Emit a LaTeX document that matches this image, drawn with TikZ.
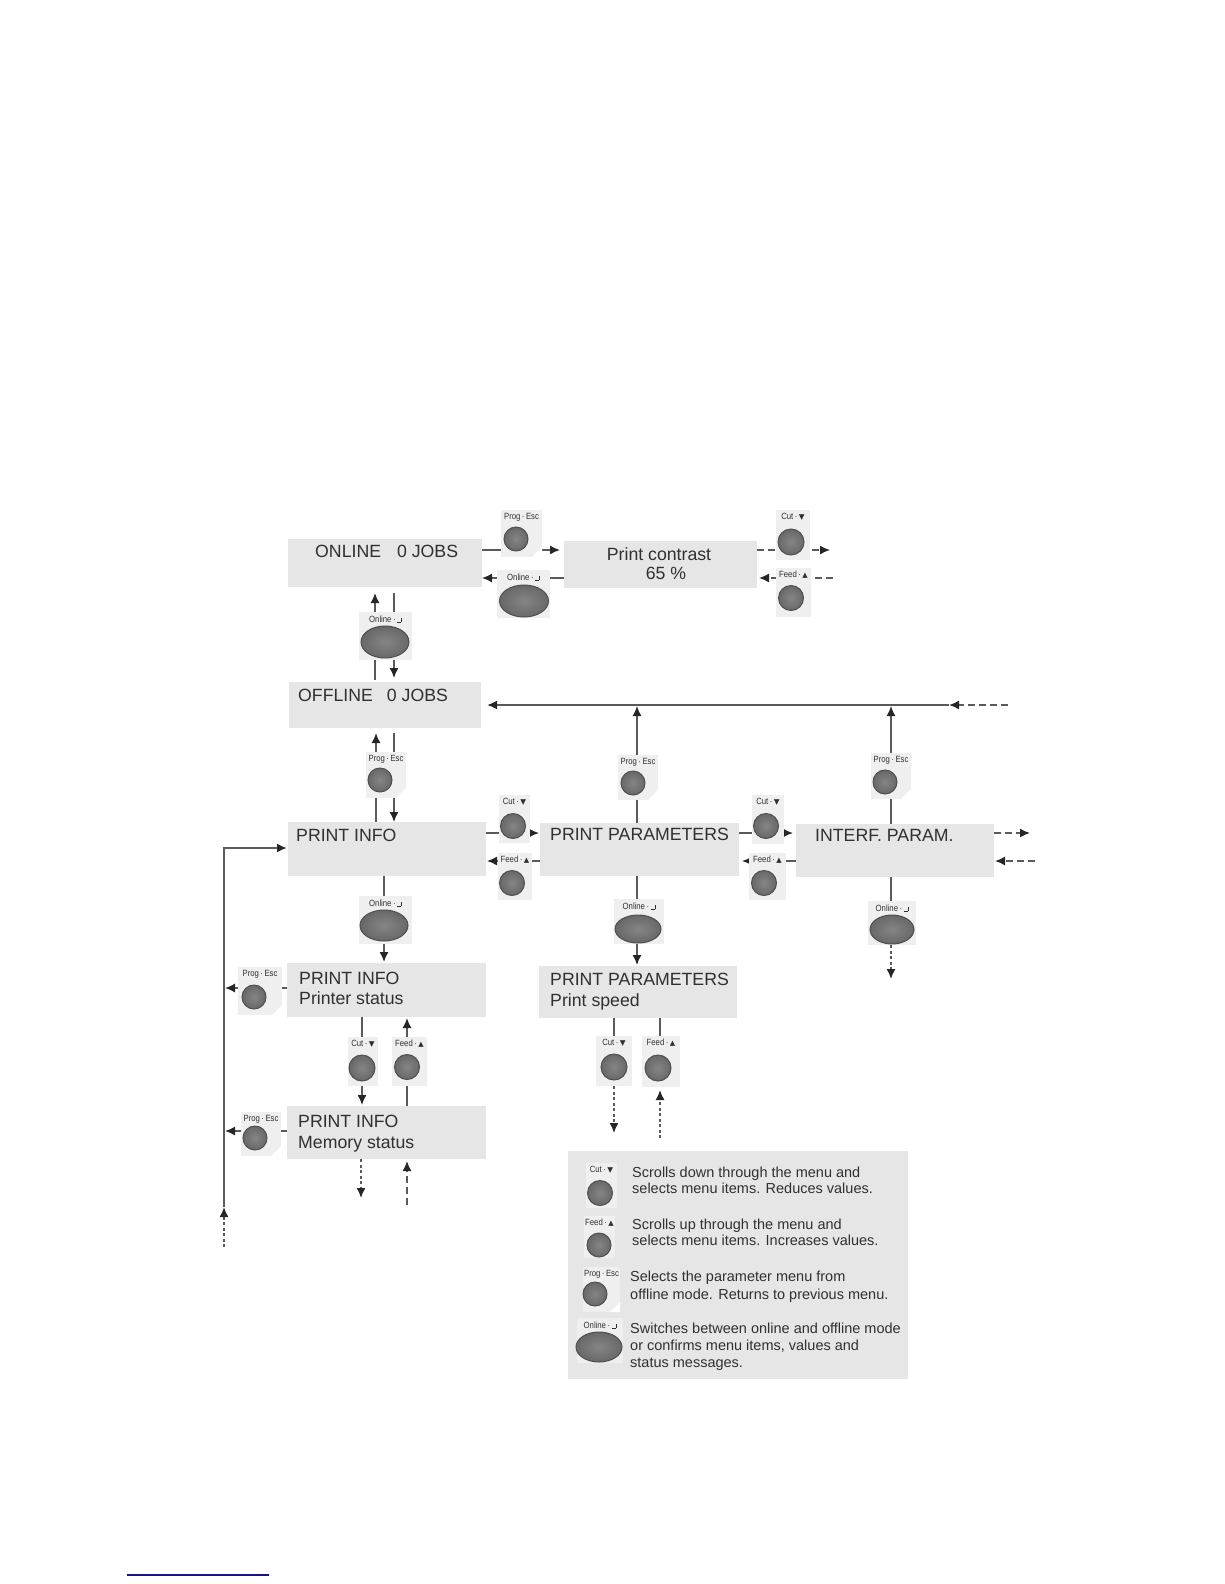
\documentclass[tikz,border=0pt]{standalone}
\usepackage{fontspec}
\setmainfont{Liberation Sans}
\newfontfamily\symfont{DejaVu Sans}
\newfontfamily\keyfont[FakeStretch=0.86]{Liberation Sans}
\usetikzlibrary{arrows.meta,backgrounds,calc,shapes.geometric}
\definecolor{panel}{HTML}{E6E6E6}
\definecolor{tile}{HTML}{EFEFEF}
\definecolor{btnin}{HTML}{858585}
\definecolor{btnout}{HTML}{686868}
\definecolor{btnedge}{HTML}{4F4F4F}
\definecolor{ink}{HTML}{303030}
\definecolor{wire}{HTML}{5A5A5A}
\definecolor{navy}{HTML}{14148A}
\tikzset{
  x=1pt,y=-1pt,
  screen/.style={fill=panel,draw=none,inner sep=0pt,outer sep=0pt},
  tiles/.style={fill=tile,draw=none,inner sep=0pt,outer sep=0pt},
  disc/.style={inner color=btnin,outer color=btnout,draw=btnedge,line width=1pt,circle,inner sep=0pt,outer sep=0pt},
  oval/.style={inner color=btnin,outer color=btnout,draw=btnedge,line width=1pt,ellipse,inner sep=0pt,outer sep=0pt},
  keylab/.style={inner sep=0pt,text=ink,font=\keyfont\fontsize{9}{9}\selectfont},
  disp/.style={anchor=base west,inner sep=0pt,text=ink,font=\fontsize{17.7}{17.7}\selectfont},
  dispc/.style={anchor=base,inner sep=0pt,text=ink,font=\fontsize{17.7}{17.7}\selectfont},
  note/.style={anchor=base west,inner sep=0pt,text=ink,font=\fontsize{14.5}{14.5}\selectfont},
  conn/.style={draw=wire,line width=1.5pt,-{Latex[length=10pt,width=9pt,color=black!85]}},
  stub/.style={draw=wire,line width=1.5pt},
  dconn/.style={conn,dash pattern=on 7pt off 4pt},
  fconn/.style={conn,dash pattern=on 3pt off 2.5pt},
}
% tile: name, x1, y1, x2, y2, label
\newcommand{\tilekey}[6]{%
  \node[tiles,minimum width={(#4-#2)*1pt},minimum height={(#5-#3)*1pt}] (#1) at ({(#2+#4)/2},{(#3+#5)/2}) {};
  \node[keylab] (#1-lab) at ({(#2+#4)/2},{#3+7}) {#6};
}
% round key: name x1 y1 x2 y2 label cx cy r
\newcommand{\roundkey}[9]{%
  \tilekey{#1}{#2}{#3}{#4}{#5}{#6}
  \node[disc,minimum size={2*#9*1pt}] (#1-b) at (#7,#8) {};
}
% corner cut on a tile
\newcommand{\cutcorner}[3]{%
  \fill[white] (#1,#2) -- ({#1-#3},#2) -- (#1,{#2-#3}) -- cycle;
}
\newcommand{\cutl}{Cut\,·\,{\symfont\fontsize{7.5}{7.5}\selectfont▼}}
\newcommand{\feedl}{Feed\,·\,{\symfont\fontsize{7}{7}\selectfont▲}}
\newcommand{\progl}{Prog\,·\,Esc}
\newcommand{\onl}{Online\,·\,\rule{4pt}{0.7pt}\rule{0.7pt}{4.5pt}}
\newcommand{\progkey}[8]{% name x1 y1 x2 y2 cx cy r
  \roundkey{#1}{#2}{#3}{#4}{#5}{\progl}{#6}{#7}{#8}
  \cutcorner{#4}{#5}{10}
}
\newcommand{\onlinekey}[9]{% name x1 y1 x2 y2 cx cy rx ry
  \tilekey{#1}{#2}{#3}{#4}{#5}{\onl}
  \node[oval,minimum width={2*#8*1pt},minimum height={2*#9*1pt}] (#1-b) at (#6,#7) {};
}
\newcommand{\screenbox}[5]{% name x1 y1 x2 y2
  \node[screen,minimum width={(#4-#2)*1pt},minimum height={(#5-#3)*1pt}] (#1) at ({(#2+#4)/2},{(#3+#5)/2}) {};
}
\begin{document}
\begin{tikzpicture}
\useasboundingbox (0,0) rectangle (1224,1584);

% screens
\screenbox{online}{288}{539}{482}{587}
\screenbox{contrast}{564}{541}{757}{588}
\screenbox{offline}{289}{682}{481}{728}
\screenbox{pinfo}{288}{822}{486}{876}
\screenbox{pparam}{540}{823}{739}{876}
\screenbox{interf}{796}{824}{994}{877}
\screenbox{pstatus}{287}{963}{486}{1017}
\screenbox{pmem}{287}{1106}{486}{1159}
\screenbox{pspeed}{539}{966}{737}{1018}
\screenbox{legend}{568}{1151}{908}{1379}

% screen texts
\node[disp] (t-on) at (315,557) {ONLINE\hspace{16pt}0 JOBS};
\node[dispc] (t-c1) at (659,560) {Print contrast};
\node[dispc] (t-c2) at (666,579) {65 \%};
\node[disp] (t-off) at (298,701) {OFFLINE\hspace{14pt}0 JOBS};
\node[disp] (t-pi) at (296,841) {PRINT INFO};
\node[disp] (t-pp) at (550,840) {PRINT PARAMETERS};
\node[disp] (t-if) at (815,841) {INTERF. PARAM.};
\node[disp] (t-s1) at (299,984) {PRINT INFO};
\node[disp] (t-s2) at (299,1004) {Printer status};
\node[disp] (t-m1) at (298,1127) {PRINT INFO};
\node[disp] (t-m2) at (298,1148) {Memory status};
\node[disp] (t-q1) at (550,985) {PRINT PARAMETERS};
\node[disp] (t-q2) at (550,1006) {Print speed};

% legend texts
\node[note] (n1a) at (632,1177) {Scrolls down through the menu and};
\node[note] (n1b) at (632,1193) {selects menu items. Reduces values.};
\node[note] (n2a) at (632,1229) {Scrolls up through the menu and};
\node[note] (n2b) at (632,1245) {selects menu items. Increases values.};
\node[note] (n3a) at (630,1281) {Selects the parameter menu from};
\node[note] (n3b) at (630,1299) {offline mode. Returns to previous menu.};
\node[note] (n4a) at (630,1333) {Switches between online and offline mode};
\node[note] (n4b) at (630,1350) {or confirms menu items, values and};
\node[note] (n4c) at (630,1367) {status messages.};

% keys
\progkey{k1}{501}{510}{542}{557}{516}{539}{12}
\onlinekey{k2}{497}{570}{550}{618}{524}{601}{24.5}{16}
\roundkey{k3}{776}{510}{810}{560}{\cutl}{791}{542}{13}
\roundkey{k4}{776}{568}{811}{617}{\feedl}{791}{598}{12.5}
\onlinekey{k5}{359}{612}{412}{660}{385}{642}{24}{16}
\progkey{k6}{366}{752}{406}{798}{380}{780}{12}
\progkey{k7}{618}{755}{658}{800}{633}{783}{12}
\progkey{k8}{871}{753}{911}{799}{885}{782}{12}
\roundkey{k9}{499}{795}{530}{843}{\cutl}{513}{826}{12.5}
\roundkey{k10}{498}{853}{532}{900}{\feedl}{512}{883}{12.5}
\roundkey{k11}{752}{795}{784}{844}{\cutl}{766}{826}{12.5}
\roundkey{k12}{749}{853}{786}{900}{\feedl}{764}{883}{12.5}
\onlinekey{k13}{359}{896}{412}{944}{384}{925.5}{24}{15.5}
\onlinekey{k14}{614}{899}{664}{944}{638}{929}{23}{14}
\onlinekey{k15}{868}{901}{916}{945}{892}{929.5}{22}{14.5}
\progkey{k16}{238}{967}{282}{1015}{254}{997}{12}
\progkey{k17}{241}{1112}{281}{1156}{255}{1138}{12}
\roundkey{k18}{348}{1037}{378}{1086}{\cutl}{362}{1068}{13}
\roundkey{k19}{392}{1037}{427}{1086}{\feedl}{407}{1067}{12.5}
\roundkey{k20}{596}{1036}{632}{1086}{\cutl}{614}{1067}{13}
\roundkey{k21}{642}{1036}{680}{1087}{\feedl}{658}{1068}{13}
% legend keys
\roundkey{l1}{586}{1163}{617}{1208}{\cutl}{600}{1193}{12.5}
\roundkey{l2}{584}{1216}{615}{1258}{\feedl}{599}{1245}{12}
\progkey{l3}{583}{1267}{620}{1312}{595}{1294}{12}
\onlinekey{l4}{577}{1318}{623}{1363}{599}{1347}{23}{15}

% free ends
\coordinate (f3) at (830,550);
\coordinate (f4) at (833,578);
\coordinate (f5) at (1008,705);
\coordinate (f5b) at (949,705);
\coordinate (f6) at (1030,833);
\coordinate (f7) at (1035,861);
\coordinate (f8) at (891,979);
\coordinate (f9) at (224,848);
\coordinate (f10) at (224,1207);
\coordinate (f11) at (224,1247);
\coordinate (f12) at (361,1198);
\coordinate (f13) at (407,1205);
\coordinate (f14) at (614,1133);
\coordinate (f15) at (660,1138);

\begin{scope}[on background layer]
  % top row
  \draw[conn,shorten >=4pt] (online.east |- 0,550) -- (contrast.west |- 0,550);
  \draw[conn,shorten >=0pt] (contrast.west |- 0,578) -- (online.east |- 0,578);
  \draw[dconn] (contrast.east |- 0,550) -- (f3);
  \draw[dconn,shorten >=2pt] (f4) -- (contrast.east |- 0,578);
  % online / offline
  \draw[conn] (375,680) -- (375,593);
  \draw[conn] (394,593) -- (394,678);
  % long return line
  \draw[dconn] (f5) -- (f5b);
  \draw[conn,line width=2pt,shorten >=6pt] (f5b) -- (offline.east |- f5b);
  \draw[conn] (pparam.north -| 637,0) -- (637,706);
  \draw[conn] (interf.north -| 891,0) -- (891,706);
  % offline / info
  \draw[conn] (pinfo.north -| 376,0) -- (376,733);
  \draw[conn] (394,733) -- (pinfo.north -| 394,0);
  % row of menus
  \draw[conn,shorten >=1pt] (pinfo.east |- 0,833) -- (pparam.west |- 0,833);
  \draw[conn,shorten >=1pt] (pparam.west |- 0,861) -- (pinfo.east |- 0,861);
  \draw[conn,shorten >=3pt] (pparam.east |- 0,833) -- (interf.west |- 0,833);
  \draw[conn,shorten >=3pt] (interf.west |- 0,861) -- (pparam.east |- 0,861);
  \draw[dconn] (interf.east |- f6) -- (f6);
  \draw[dconn,shorten >=1pt] (f7) -- (interf.east |- f7);
  % downwards
  \draw[conn,shorten >=1pt] (pinfo.south -| 384,0) -- (pstatus.north -| 384,0);
  \draw[conn,shorten >=1pt] (pparam.south -| 637,0) -- (pspeed.north -| 637,0);
  \draw[stub] (interf.south -| 891,0) -- (k15.north -| 891,0);
  \draw[fconn] (k15.south -| 891,0) -- (f8);
  % left bus
  \draw[conn,line width=2pt,shorten >=1pt] (f10) -- (f9) -- (pinfo.west |- f9);
  \draw[fconn] (f11) -- (f10);
  \draw[conn] (pstatus.west |- 0,988) -- (225,988);
  \draw[conn] (pmem.west |- 0,1131) -- (225,1131);
  % between status screens
  \draw[conn,shorten >=1pt] (pstatus.south -| 362,0) -- (pmem.north -| 362,0);
  \draw[conn,shorten >=1pt] (pmem.north -| 407,0) -- (pstatus.south -| 407,0);
  \draw[fconn] (pmem.south -| 361,0) -- (f12);
  \draw[dconn,shorten >=2pt] (f13) -- (pmem.south -| 407,0);
  % print speed
  \draw[stub] (pspeed.south -| 614,0) -- (k20.north -| 614,0);
  \draw[stub] (pspeed.south -| 660,0) -- (k21.north -| 660,0);
  \draw[fconn] (k20.south -| 614,0) -- (f14);
  \draw[fconn,shorten >=3pt] (f15) -- (k21.south -| 660,0);
\end{scope}

% rule at the foot of the page
\coordinate (r1) at (127,1575);
\coordinate (r2) at (269,1575);
\draw[navy,line width=1.3pt] (r1) -- (r2);
\end{tikzpicture}
\end{document}
